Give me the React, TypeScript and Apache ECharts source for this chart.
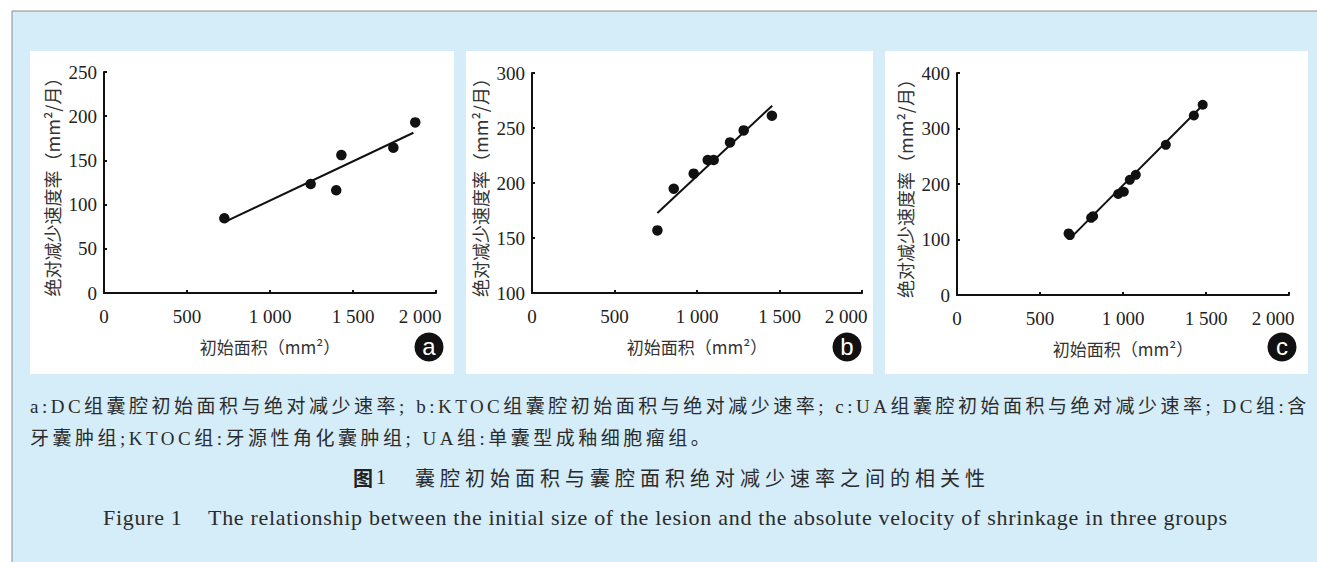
import { useEffect, useRef } from "react";
import * as echarts from "echarts";

// ---- data ----
const xTicks = [0, 500, 1000, 1500, 2000];

const aX = [725, 1245, 1399, 1430, 1743, 1875];
const aY = [84.5, 123.3, 116.2, 156, 164.4, 193];
const aFitX = [731, 1864];
const aFitY = [80.7, 181.3];

const bX = [760, 859, 980, 1065, 1101, 1200, 1283, 1454];
const bY = [156.9, 194.8, 208.5, 220.9, 220.9, 236.9, 247.8, 261.2];
const bFitX = [760, 1456];
const bFitY = [172.7, 270.3];

const cX = [672, 680, 808, 820, 971, 1005, 1041, 1077, 1258, 1427, 1480];
const cY = [111, 108, 139, 142, 182, 186, 207.5, 216.5, 270.6, 323.5, 342.8];
const cFitX = [686, 1483];
const cFitY = [103.4, 342.8];

const yRanges = [
  [0, 250, 50],
  [100, 300, 50],
  [0, 400, 100],
];
const panelLetters = ["a", "b", "c"];

const xTitle = "初始面积（mm²）";
const yTitle = "绝对减少速度率（mm²/月）";

const caption1 =
  "a:DC组囊腔初始面积与绝对减少速率; b:KTOC组囊腔初始面积与绝对减少速率; c:UA组囊腔初始面积与绝对减少速率; DC组:含";
const caption2 = "牙囊肿组;KTOC组:牙源性角化囊肿组; UA组:单囊型成釉细胞瘤组。";
const titleMain = "囊腔初始面积与囊腔面积绝对减少速率之间的相关性";
const figLabel = "Figure 1";
const figText =
  "The relationship between the initial size of the lesion and the absolute velocity of shrinkage in three groups";

const SERIF = "'Liberation Serif', 'Noto Sans CJK SC', serif";
const CJK = "'Noto Sans CJK SC', 'Liberation Serif', sans-serif";

const letterSpacing: Record<string, number> = {
  [caption1]: 3.5,
  [caption2]: 3.5,
  [titleMain]: 5,
  [figLabel]: 0.7,
  [figText]: 0.7,
};

function fmt(v: number): string {
  if (v >= 1000) {
    const t = Math.floor(v / 1000);
    const r = String(v % 1000).padStart(3, "0");
    return `${t} ${r}`;
  }
  return String(v);
}

export default function App() {
  const ref = useRef<HTMLDivElement>(null);
  useEffect(() => {
    document.body.style.margin = "0";
    const el = ref.current!;
    const chart = echarts.init(el, null, { renderer: "svg" });

    const grids = [
      { left: 104, top: 72, width: 332, height: 221 },
      { left: 532, top: 73, width: 330, height: 220 },
      { left: 957, top: 73, width: 332, height: 222 },
    ];
    const panels = [
      { x: 30, y: 51, w: 424, h: 323 },
      { x: 466, y: 51, w: 407, h: 323 },
      { x: 885, y: 51, w: 423, h: 323 },
    ];
    const badges = [
      [429, 347],
      [847, 347],
      [1282, 347],
    ];
    const pts = [
      [aX, aY, aFitX, aFitY, 10.5],
      [bX, bY, bFitX, bFitY, 10.5],
      [cX, cY, cFitX, cFitY, 10],
    ] as any[];

    const axisLine = { show: true, lineStyle: { color: "#111", width: 2 } };
    const axisTick = { show: true, inside: true, length: 3, lineStyle: { color: "#111", width: 2 } };
    const labelStyle = { fontFamily: SERIF, fontSize: 19, color: "#222" };
    const xMax = xTicks[xTicks.length - 1];

    const option: any = {
      animation: false,
      backgroundColor: "#ffffff",
      grid: grids.map((g) => ({ ...g, containLabel: false })),
      xAxis: grids.map((_, i) => ({
        type: "value",
        gridIndex: i,
        min: xTicks[0],
        max: xMax,
        interval: xTicks[1] - xTicks[0],
        axisLine,
        axisTick,
        splitLine: { show: false },
        axisLabel: {
          ...labelStyle,
          margin: 14,
          formatter: (v: number) => (v === xMax ? `{m|${fmt(v)}}` : fmt(v)),
          rich: {
            m: { fontFamily: SERIF, fontSize: 19, color: "#222", padding: [0, 32, 0, 0] },
          },
        },
        name: xTitle,
        nameLocation: "middle",
        nameGap: 45,
        nameTextStyle: { fontFamily: CJK, fontSize: 17, color: "#333" },
      })),
      yAxis: grids.map((_, i) => ({
        type: "value",
        gridIndex: i,
        min: yRanges[i][0],
        max: yRanges[i][1],
        interval: yRanges[i][2],
        axisLine,
        axisTick,
        splitLine: { show: false },
        axisLabel: { ...labelStyle, margin: 7 },
        name: yTitle,
        nameLocation: "middle",
        nameGap: 43,
        nameTextStyle: { fontFamily: CJK, fontSize: 18, color: "#333" },
      })),
      series: pts.flatMap((p: any, i: number) => [
        {
          type: "line",
          xAxisIndex: i,
          yAxisIndex: i,
          data: p[2].map((x: number, k: number) => [x, p[3][k]]),
          symbol: "none",
          lineStyle: { color: "#111", width: 2 },
          z: 2,
        },
        {
          type: "scatter",
          xAxisIndex: i,
          yAxisIndex: i,
          data: p[0].map((x: number, k: number) => [x, p[1][k]]),
          symbolSize: p[4],
          itemStyle: { color: "#111", opacity: 1 },
          z: 3,
        },
      ]),
      graphic: [
        {
          type: "rect",
          z: -10,
          silent: true,
          shape: { x: 12, y: 11, width: 1400, height: 600 },
          style: { fill: "#d5ecf9", stroke: "#8c8c8c", lineWidth: 1 },
        },
        ...panels.map((p) => ({
          type: "rect",
          z: -9,
          silent: true,
          shape: { x: p.x, y: p.y, width: p.w, height: p.h },
          style: { fill: "#ffffff" },
        })),
        ...badges.flatMap((b, i) => [
          {
            type: "circle",
            z: 5,
            shape: { cx: b[0], cy: b[1], r: 14.5 },
            style: { fill: "#111" },
          },
          {
            type: "text",
            z: 6,
            x: b[0],
            y: b[1] - 1,
            style: {
              text: panelLetters[i],
              fill: "#fff",
              font: "24px 'Liberation Sans', Arial, sans-serif",
              align: "center",
              verticalAlign: "middle",
            },
          },
        ]),
        {
          type: "text",
          z: 5,
          x: 30,
          y: 406,
          style: {
            text: caption1,
            fill: "#2b2b2b",
            font: `19px ${SERIF}`,
            align: "left",
            verticalAlign: "middle",
          },
        },
        {
          type: "text",
          z: 5,
          x: 30,
          y: 438,
          style: {
            text: caption2,
            fill: "#2b2b2b",
            font: `19px ${SERIF}`,
            align: "left",
            verticalAlign: "middle",
          },
        },
        {
          type: "text",
          z: 5,
          x: 353,
          y: 477,
          style: {
            text: "{b|图}{n|1}",
            align: "left",
            verticalAlign: "middle",
            rich: {
              b: { fontFamily: CJK, fontWeight: "bold", fontSize: 20, fill: "#222" },
              n: { fontFamily: SERIF, fontSize: 20, fill: "#222", padding: [0, 0, 0, 3] },
            },
          },
        },
        {
          type: "text",
          z: 5,
          x: 415,
          y: 477,
          style: {
            text: titleMain,
            fill: "#2b2b2b",
            font: `20px ${CJK}`,
            align: "left",
            verticalAlign: "middle",
          },
        },
        {
          type: "text",
          z: 5,
          x: 103,
          y: 517,
          style: {
            text: figLabel,
            fill: "#2b2b2b",
            font: `22px ${SERIF}`,
            align: "left",
            verticalAlign: "middle",
          },
        },
        {
          type: "text",
          z: 5,
          x: 208,
          y: 517,
          style: {
            text: figText,
            fill: "#2b2b2b",
            font: `22px ${SERIF}`,
            align: "left",
            verticalAlign: "middle",
          },
        },
      ],
    };
    chart.setOption(option);

    const applySpacing = () => {
      el.querySelectorAll("text").forEach((t) => {
        const s = letterSpacing[(t.textContent || "").trim()];
        if (s != null) (t as SVGTextElement).style.letterSpacing = `${s}px`;
      });
    };
    applySpacing();
    chart.on("finished", applySpacing);

    return () => {
      chart.dispose();
    };
  }, []);

  return <div ref={ref} style={{ width: 1317, height: 562 }} />;
}
